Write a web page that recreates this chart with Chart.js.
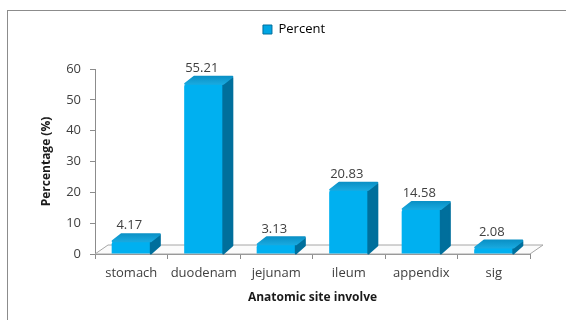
<!DOCTYPE html>
<html><head><meta charset="utf-8">
<script src="https://cdn.jsdelivr.net/npm/chart.js@4"></script>
<style>
html,body{margin:0;padding:0;background:#fff;}
#wrap{position:relative;width:566px;height:320px;overflow:hidden;}
#frame{position:absolute;left:7px;top:10px;width:600px;height:340px;border-left:1.5px solid #8c8c8c;border-top:1.5px solid #8c8c8c;box-sizing:border-box;}
canvas{position:absolute;left:0;top:0;}
</style></head><body>
<div id="wrap"><div id="frame"></div><canvas id="c" width="566" height="320"></canvas></div>
<script>
const categories = ['stomach', 'duodenam', 'jejunam', 'ileum', 'appendix', 'sig'];
const percentValues = [4.17, 55.21, 3.13, 20.83, 14.58, 2.08];
const yTickValues = [0, 10, 20, 30, 40, 50, 60];
const seriesName = 'Percent';
const xTitle = 'Anatomic site involve';
const yTitle = 'Percentage (%)';

const FONT = "'Open Sans', sans-serif";
const TXT = '#404040';
const AX = '#8c8c8c';
const DX = 10, DY = 8;     // bar depth
const FDX = 13, FDY = 9;   // floor depth

function frontFill(ctx) {
  const chart = ctx.chart;
  const el = chart.getDatasetMeta(ctx.datasetIndex).data[ctx.dataIndex];
  if (!el || !chart.chartArea || isNaN(el.x)) return '#00b0f0';
  const w = el.width || 39;
  const g = chart.ctx.createLinearGradient(el.x - w / 2, 0, el.x + w / 2, 0);
  g.addColorStop(0, '#0098d2');
  g.addColorStop(0.12, '#10b8f4');
  g.addColorStop(0.4, '#2cc4fa');
  g.addColorStop(0.8, '#05aeeb');
  g.addColorStop(1, '#0094cc');
  return g;
}

const floorPlugin = {
  id: 'floor3d',
  beforeDatasetsDraw(chart) {
    const {ctx, chartArea} = chart;
    const y0 = chart.scales.y.getPixelForValue(0);
    ctx.save();
    ctx.beginPath();
    ctx.moveTo(chartArea.left, y0);
    ctx.lineTo(chartArea.left + FDX, y0 - FDY);
    ctx.lineTo(chartArea.right + FDX, y0 - FDY);
    ctx.lineTo(chartArea.right, y0);
    ctx.closePath();
    ctx.fillStyle = '#fbfbfb';
    ctx.fill();
    ctx.strokeStyle = '#a6a6a6';
    ctx.lineWidth = 1;
    ctx.stroke();
    ctx.restore();
  }
};

const barSidesPlugin = {
  id: 'bar3d',
  afterDatasetsDraw(chart) {
    const {ctx} = chart;
    const meta = chart.getDatasetMeta(0);
    ctx.save();
    ctx.lineJoin = 'round';
    meta.data.forEach((bar, i) => {
      const w = bar.width, x = bar.x, top = bar.y, base = bar.base;
      const l = x - w / 2, r = x + w / 2;
      // side
      ctx.beginPath();
      ctx.moveTo(r, top + 1);
      ctx.lineTo(r + DX - 1, top - DY + 2);
      ctx.lineTo(r + DX - 1, base - DY);
      ctx.lineTo(r, base);
      ctx.closePath();
      ctx.fillStyle = '#006f9c';
      ctx.strokeStyle = '#006f9c';
      ctx.lineWidth = 2;
      ctx.fill();
      ctx.stroke();
      // top
      ctx.beginPath();
      ctx.moveTo(l + 1, top);
      ctx.lineTo(l + DX, top - DY + 1);
      ctx.lineTo(r + DX - 1, top - DY + 1);
      ctx.lineTo(r, top);
      ctx.closePath();
      const g = ctx.createLinearGradient(0, top - DY, 0, top);
      g.addColorStop(0, '#0a8fc4');
      g.addColorStop(1, '#18a8de');
      ctx.fillStyle = g;
      ctx.strokeStyle = g;
      ctx.fill();
      ctx.stroke();
      // value label
      ctx.fillStyle = TXT;
      ctx.font = "13px " + FONT;
      ctx.textAlign = 'center';
      ctx.textBaseline = 'bottom';
      ctx.fillText(percentValues[i].toFixed(2), x - 2, top - DY - 1);
    });
    ctx.restore();
  }
};

const legendFix = {
  id: 'legendFix',
  beforeInit(chart) {
    const orig = chart.legend.fit;
    chart.legend.fit = function () {
      orig.call(this);
      this.height = 56;
    };
  },
  afterLayout(chart) {
    chart.legend.left += 14;
    chart.legend.right += 14;
  }
};

new Chart(document.getElementById('c'), {
  type: 'bar',
  data: {
    labels: categories,
    datasets: [{
      label: seriesName,
      data: percentValues,
      backgroundColor: frontFill,
      borderWidth: 0,
      borderRadius: 3,
      borderSkipped: 'bottom',
      barPercentage: 0.54,
      categoryPercentage: 1
    }]
  },
  options: {
    responsive: false,
    animation: false,
    devicePixelRatio: 1,
    layout: {padding: {left: 30, right: 36, top: 13, bottom: 14}},
    plugins: {
      tooltip: {enabled: false},
      legend: {
        labels: {
          boxWidth: 9, boxHeight: 9, padding: 10,
          color: TXT,
          font: {family: FONT, size: 13},
          generateLabels: () => [{
            text: seriesName, fillStyle: '#00a6e4', strokeStyle: '#006f9c', lineWidth: 1, hidden: false, datasetIndex: 0
          }]
        }
      }
    },
    scales: {
      x: {
        grid: {offset: true, drawOnChartArea: false, tickLength: 5, color: AX},
        border: {color: AX},
        ticks: {padding: 6, color: TXT, font: {family: FONT, size: 13}},
        title: {display: true, text: xTitle, color: '#1a1a1a', font: {family: FONT, size: 12, weight: 'bold'}, padding: {top: 0, bottom: 1}},
        afterFit(s) { s.height = 52; }
      },
      y: {
        min: 0, max: 60,
        afterBuildTicks(s) { s.ticks = yTickValues.map(v => ({value: v})); },
        grid: {drawOnChartArea: false, tickLength: 5, color: AX},
        border: {color: AX},
        ticks: {padding: 9, color: TXT, font: {family: FONT, size: 13}},
        title: {display: true, text: yTitle, color: '#1a1a1a', font: {family: FONT, size: 12, weight: 'bold'}, padding: {top: 9, bottom: 0}},
        afterFit(s) { s.width = 65; }
      }
    }
  },
  plugins: [legendFix, floorPlugin, barSidesPlugin]
});
</script>
</body></html>
